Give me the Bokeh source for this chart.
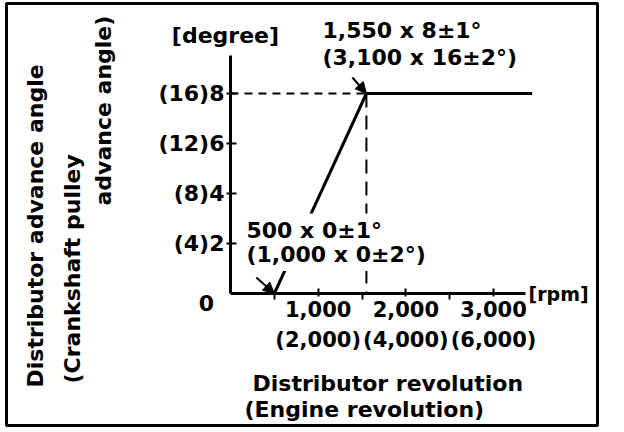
from math import pi
from bokeh.plotting import figure
from bokeh.models import (Range1d, LinearAxis, FixedTicker, Label, Arrow, NormalHead)
from bokeh.embed import file_html
from bokeh.resources import INLINE

# ---- data ----
dist_rpm = [500, 1550, 3440]          # distributor revolution [rpm]
dist_adv = [0, 8, 8]                  # distributor advance angle [degree]
knee_rpm, knee_adv = 1550, 8
start_rpm, start_adv = 500, 0

x_ticks = [1000, 2000, 3000]
x_minor = [500, 1500, 2500]
x_tick_labels = ["1,000\n(2,000)", "2,000\n(4,000)", "3,000\n(6,000)"]
y_ticks = [2, 4, 6, 8]
y_tick_labels = ["(4)2", "(8)4", "(12)6", "(16)8"]

FONT = "DejaVu Sans"
FS = "22px"
FSTYLE = "bold"

p = figure(width=600, height=428, x_range=Range1d(-2554, 4185), y_range=Range1d(-5.28, 11.6),
           output_backend="svg", toolbar_location=None,
           x_axis_location=None, y_axis_location=None,
           min_border_left=6, min_border_right=3, min_border_top=3, min_border_bottom=3)
p.grid.visible = False
p.outline_line_color = "black"
p.outline_line_width = 3
p.background_fill_color = "white"
p.border_fill_color = "white"

xaxis = LinearAxis(fixed_location=0,
                   ticker=FixedTicker(ticks=x_ticks, minor_ticks=x_minor),
                   major_label_overrides={t: l for t, l in zip(x_ticks, x_tick_labels)},
                   bounds=(0, 3360))
yaxis = LinearAxis(fixed_location=0,
                   ticker=FixedTicker(ticks=y_ticks, minor_ticks=[]),
                   major_label_overrides={t: l for t, l in zip(y_ticks, y_tick_labels)},
                   bounds=(0, 9.52))
for ax in (xaxis, yaxis):
    ax.axis_line_width = 3
    ax.axis_line_color = "black"
    ax.major_tick_line_width = 2
    ax.major_tick_line_color = "black"
    ax.minor_tick_line_width = 2
    ax.minor_tick_line_color = "black"
    ax.major_label_text_font = FONT
    ax.major_label_text_font_size = FS
    ax.major_label_text_font_style = FSTYLE
    ax.major_label_text_color = "black"
    ax.major_label_standoff = 2
xaxis.major_tick_in = 5
xaxis.major_tick_out = 3
xaxis.minor_tick_in = 0
xaxis.minor_tick_out = 6
xaxis.major_label_text_font_size = "21px"
xaxis.major_label_standoff = -2
xaxis.major_label_text_line_height = 1.28
yaxis.major_tick_in = 6
yaxis.major_tick_out = 4
p.add_layout(xaxis, "below")
p.add_layout(yaxis, "left")

# curve and guides
p.line(dist_rpm, dist_adv, line_width=3, color="black")
p.line([0, knee_rpm], [knee_adv, knee_adv], line_width=2, color="black", line_dash="8 6")
p.line([knee_rpm, knee_rpm], [knee_adv, 0], line_width=2, color="black", line_dash="14 8")

def lab(x, y, text, align="left", baseline="middle", angle=0, size=FS, **kw):
    l = Label(x=x, y=y, text=text, text_font=FONT, text_font_size=size, text_font_style=FSTYLE,
              text_color="black", text_align=align, text_baseline=baseline, angle=angle, **kw)
    p.add_layout(l)
    return l

# annotations
lab(1049, 11.04, "1,550 x 8\u00b11\u00b0\n(3,100 x 16\u00b12\u00b0)", baseline="top",
    text_line_height=1.1)
lab(137, 3.2, "500 x 0\u00b11\u00b0\n(1,000 x 0\u00b12\u00b0)", baseline="top",
    text_line_height=0.98, background_fill_color="white", padding=4)

p.add_layout(Arrow(end=NormalHead(size=11, fill_color="black", line_color="black", line_width=1),
                   x_start=knee_rpm - 160, y_start=knee_adv + 0.64, x_end=knee_rpm, y_end=knee_adv,
                   line_width=2, line_color="black"))
p.add_layout(Arrow(end=NormalHead(size=11, fill_color="black", line_color="black", line_width=1),
                   x_start=start_rpm - 205, y_start=start_adv + 0.64, x_end=start_rpm, y_end=start_adv,
                   line_width=2, line_color="black"))

lab(-57, 10.32, "[degree]", align="center")
lab(3398, 0.0, "[rpm]", size="19px")
lab(-274, -0.36, "0", align="center")
lab(251, -3.6, "Distributor revolution")
lab(160, -4.64, "(Engine revolution)")

lab(-2223, -3.76, "Distributor advance angle", angle=pi / 2)
lab(-1802, -3.6, "(Crankshaft pulley", angle=pi / 2)
lab(-1448, 3.52, "advance angle)", angle=pi / 2)

open("out.html", "w").write(file_html(p, INLINE))
